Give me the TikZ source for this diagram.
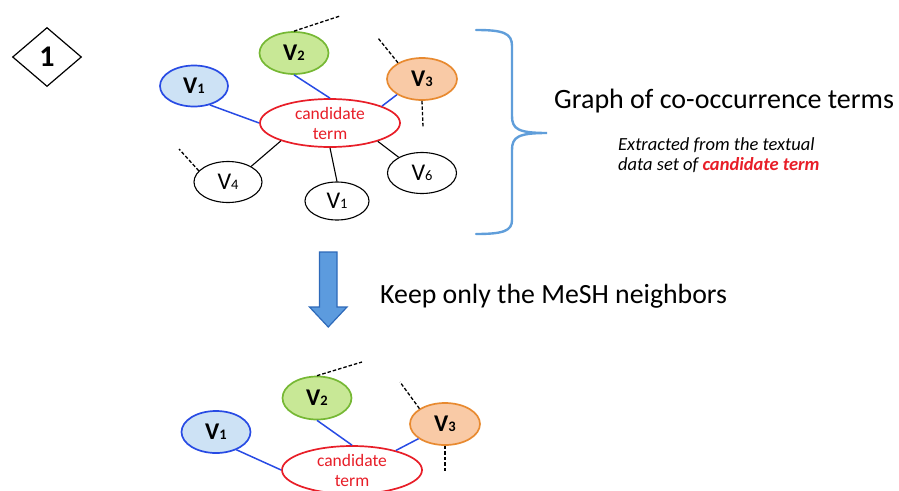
\documentclass[tikz,border=0pt]{standalone}
\usepackage{fontspec}
\setmainfont{Carlito}
\usetikzlibrary{shapes.geometric}
\definecolor{vblue}{RGB}{40,75,228}
\definecolor{lblue}{RGB}{205,226,245}
\definecolor{vgreen}{RGB}{118,184,52}
\definecolor{lgreen}{RGB}{200,232,150}
\definecolor{vorange}{RGB}{232,138,48}
\definecolor{lorange}{RGB}{249,202,166}
\definecolor{cred}{RGB}{232,30,40}
\definecolor{braceblue}{RGB}{96,158,218}
\definecolor{arrowfill}{RGB}{92,155,222}
\definecolor{arrowdraw}{RGB}{45,105,185}
\newcommand{\bigVb}[1]{\fontsize{24}{24}\selectfont\bfseries V{\fontsize{14.5}{14.5}\selectfont #1}}
\newcommand{\bigVr}[1]{\fontsize{24}{24}\selectfont V{\fontsize{14.5}{14.5}\selectfont #1}}
\begin{document}
\begin{tikzpicture}[x=1pt,y=-1pt,
  ell/.style={ellipse, inner sep=0pt, line width=1.7pt},
  wnode/.style={ellipse, inner sep=0pt, draw=black, fill=white, line width=1.1pt},
  bluenode/.style={ell, draw=vblue, fill=lblue},
  greennode/.style={ell, draw=vgreen, fill=lgreen},
  orangenode/.style={ell, draw=vorange, fill=lorange},
  candnode/.style={ell, draw=cred, fill=white, text=cred, align=center, minimum width=140pt, minimum height=48pt, font=\fontsize{17.5}{20}\selectfont},
  bedge/.style={draw=vblue, line width=1.5pt},
  kedge/.style={draw=black, line width=1.1pt},
  dedge/.style={draw=black, line width=1.3pt, dash pattern=on 3.5pt off 2pt},
  txt/.style={inner sep=0pt, anchor=base west}]
\useasboundingbox (0,0) rectangle (899,490);

% step badge
\node[diamond, draw=black, line width=1.2pt, inner sep=0pt, minimum width=69pt, minimum height=59pt,
  font=\fontsize{30}{30}\selectfont\bfseries] (badge) at (47,57) {1};

% ---------- top graph ----------
\node[candnode] (c) at (330,123) {candidate\\term};
\node[bluenode, minimum width=68pt, minimum height=41pt] (a1) at (194,86) {\bigVb{1}};
\node[greennode, minimum width=69pt, minimum height=42pt] (a2) at (294,53) {\bigVb{2}};
\node[orangenode, minimum width=70pt, minimum height=42pt] (a3) at (422,79) {\bigVb{3}};
\node[wnode, minimum width=68pt, minimum height=41pt] (a4) at (228,182) {\bigVr{4}};
\node[wnode, minimum width=64pt, minimum height=38pt] (a5) at (337,201) {\bigVr{1}};
\node[wnode, minimum width=69pt, minimum height=41pt] (a6) at (422,173) {\bigVr{6}};

\draw[bedge] (a1.-50) -- (c.west);
\draw[bedge] (a2.south) -- (c.north);
\draw[bedge] (a3.212) -- (c.18);
\draw[kedge] (a4.34) -- (c.200);
\draw[kedge] (a5.north) -- (c.south);
\draw[kedge] (a6.146) -- (c.339);

\coordinate (t2) at (340,16);
\coordinate (t3a) at (378,38);
\coordinate (t3b) at (423,127);
\coordinate (t4) at (179,149);
\draw[dedge] (a2.north) -- (t2);
\draw[dedge] (a3.146) -- (t3a);
\draw[dedge] (a3.south) -- (t3b);
\draw[dedge] (a4.159) -- (t4);

% brace
\draw[braceblue, line width=2.4pt, line cap=round]
  (476,30) .. controls (503,30) and (512,33) .. (512,46)
  -- (512,116) .. controls (512,129) and (518,133) .. (547,133)
  .. controls (518,133) and (512,137) .. (512,150)
  -- (512,220) .. controls (512,231) and (503,234) .. (476,234);

\node[txt, font=\fontsize{28}{28}\selectfont] (g) at (554,108) {Graph of co-occurrence terms};
\node[txt, font=\fontsize{18.5}{18.5}\selectfont\itshape] (e1) at (618,150) {Extracted from the textual};
\node[txt, font=\fontsize{18.5}{18.5}\selectfont\itshape] (e2) at (618,170) {data set of \textcolor{cred}{\bfseries candidate term}};

% down arrow
\draw[fill=arrowfill, draw=arrowdraw, line width=1.2pt, line join=miter]
  (319.5,252) -- (337,252) -- (337,307) -- (347,307) -- (328.25,327) -- (309.5,307) -- (319.5,307) -- cycle;
\node[txt, font=\fontsize{27.8}{27.8}\selectfont] (k) at (380,303) {Keep only the MeSH neighbors};

% ---------- bottom graph ----------
\node[candnode] (d) at (352,470) {candidate\\term};
\node[bluenode, minimum width=69pt, minimum height=42pt] (b1) at (216,432) {\bigVb{1}};
\node[greennode, minimum width=69pt, minimum height=43pt] (b2) at (317,398) {\bigVb{2}};
\node[orangenode, minimum width=70pt, minimum height=42pt] (b3) at (445,424) {\bigVb{3}};

\draw[bedge] (b1.319) -- (d.west);
\draw[bedge] (b2.south) -- (d.north);
\draw[bedge] (b3.209) -- (d.24);

\coordinate (u2) at (362,362);
\coordinate (u3a) at (400,382);
\coordinate (u3b) at (445,473);
\draw[dedge] (b2.north) -- (u2);
\draw[dedge] (b3.149) -- (u3a);
\draw[dedge] (b3.south) -- (u3b);
\end{tikzpicture}
\end{document}
